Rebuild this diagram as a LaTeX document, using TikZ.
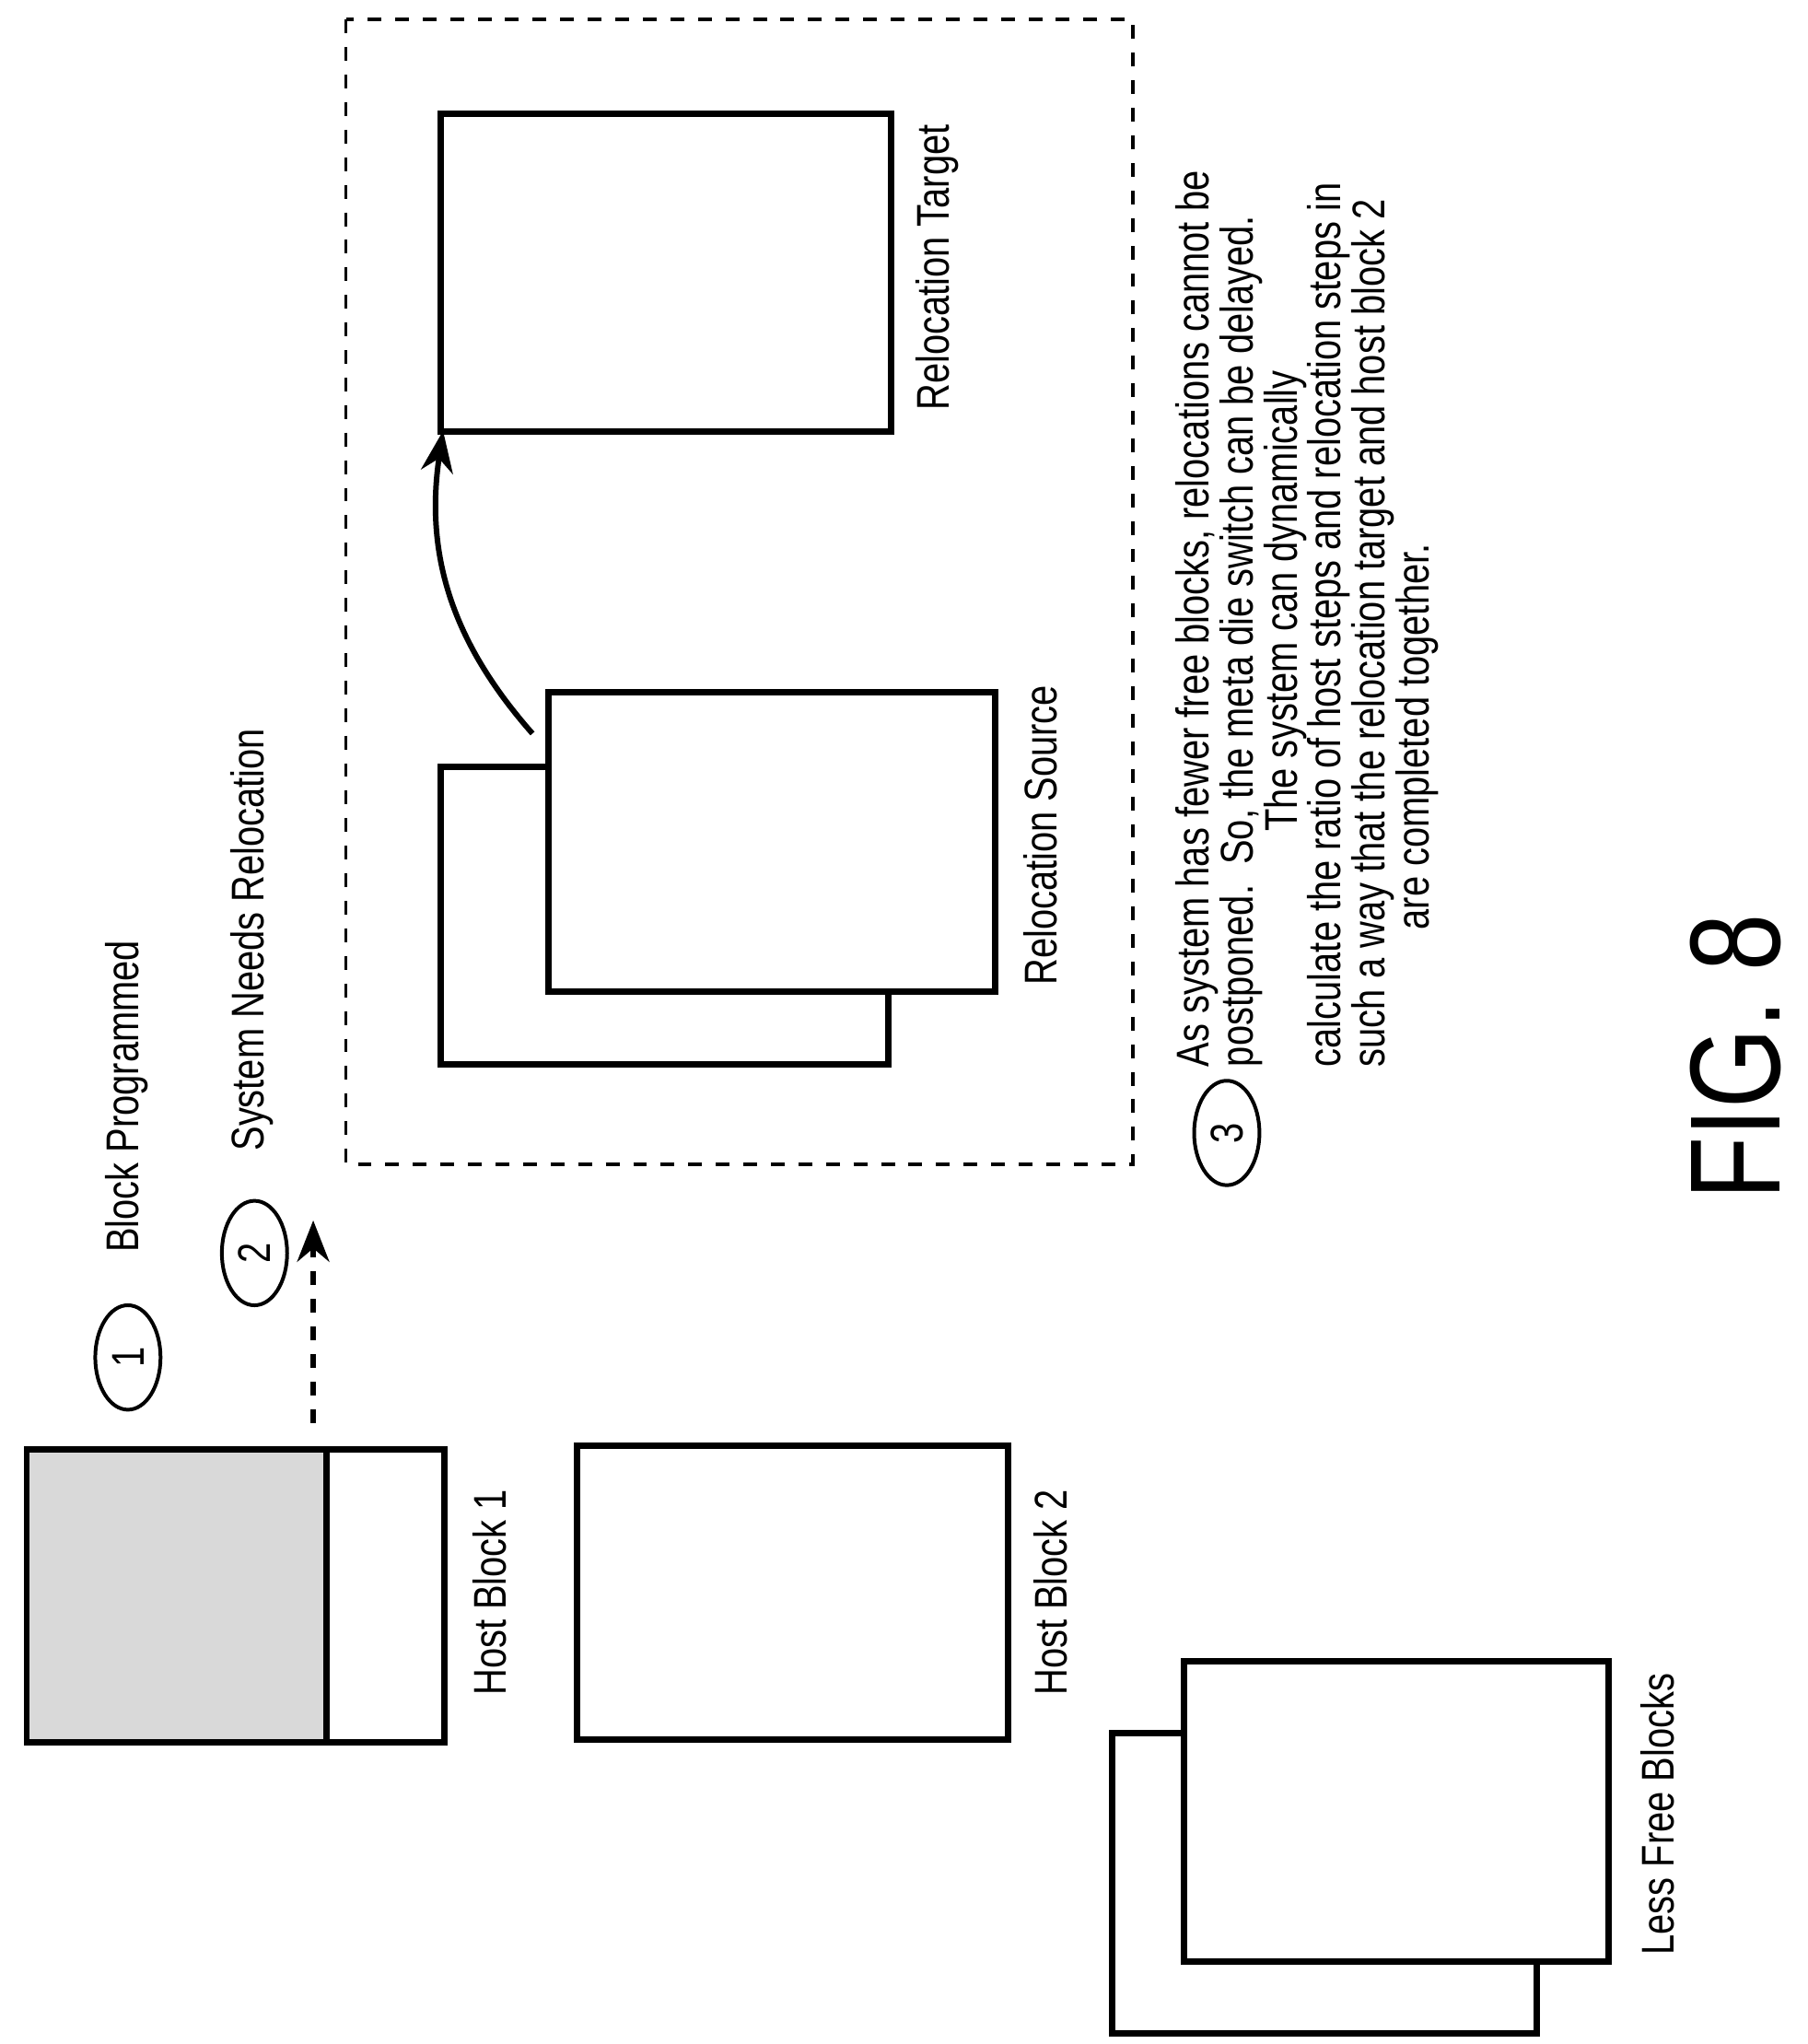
\documentclass[tikz,border=0pt]{standalone}
\usepackage{fontspec}
\setmainfont{Liberation Sans}[FakeStretch=0.8]
\usetikzlibrary{positioning,arrows,arrows.meta,shapes.geometric}
\tikzset{
    >={Stealth[length=9pt,width=7pt]},
    blockbox/.style={draw, line width=1.4pt, fill=white},
    tag/.style={rotate=90, font={\fontsize{10pt}{12}\selectfont}},
    stepmark/.style={ellipse, draw, thick, minimum width=0.5cm, minimum height=0.8cm, inner sep=0pt},
}
\begin{document}
\begin{tikzpicture}[x=0.01cm, y=-0.01cm]
\useasboundingbox (0,0) rectangle (1385,1566);
% relocation area
\draw[dashed, thick] (265,15) rectangle (868,892);
\node[blockbox, anchor=north west, minimum width=3.45cm, minimum height=2.43cm] (target) at (335,85) {};
\node[tag] (targetlbl) at (718,205) {Relocation Target};
\node[blockbox, anchor=north west, minimum width=3.43cm, minimum height=2.28cm] (srcback) at (335,585) {};
\node[blockbox, anchor=north west, minimum width=3.42cm, minimum height=2.29cm] (src) at (418,528) {};
\node[tag] (srclbl) at (797,640) {Relocation Source};
\coordinate (srcout) at (408,562);
\draw[->, line width=1.2pt] (srcout) to[bend left=25] ([xshift=0.45mm,yshift=0.3mm]target.south west);
% host blocks
\node[blockbox, fill=gray!30, anchor=north west, minimum width=2.30cm, minimum height=2.24cm] (host1a) at (18,1108) {};
\node[blockbox, anchor=north west, minimum width=0.90cm, minimum height=2.24cm] (host1b) at (248,1108) {};
\node[tag] (host1lbl) at (375,1220) {Host Block 1};
\node[blockbox, anchor=north west, minimum width=3.30cm, minimum height=2.25cm] (host2) at (440,1105) {};
\node[tag] (host2lbl) at (805,1220) {Host Block 2};
% free blocks
\node[blockbox, anchor=north west, minimum width=3.25cm, minimum height=2.30cm] (freeback) at (850,1325) {};
\node[blockbox, anchor=north west, minimum width=3.25cm, minimum height=2.30cm] (free) at (905,1270) {};
\node[tag] (freelbl) at (1270,1390) {Less Free Blocks};
% steps
\node[stepmark] (one) at (98,1040) {\rotatebox{90}{1}};
\node[tag] (onelbl) at (97,840) {Block Programmed};
\node[stepmark] (two) at (195,960) {\rotatebox{90}{2}};
\node[tag] (twolbl) at (193,720) {System Needs Relocation};
\coordinate (hostout) at (240,1090);
\coordinate (hostin) at (240,935);
\draw[->, dashed, line width=1.2pt] (hostout) -- (hostin);
\node[stepmark] (three) at (940,868) {\rotatebox{90}{3}};
\node[tag, anchor=north west, align=left, inner sep=0pt, font={\fontsize{10pt}{9.6pt}\selectfont}] (note) at (900,818)
{As system has fewer free blocks, relocations cannot be\\
postponed.\ \ So, the meta die switch can be delayed.\\
\hspace{1.8cm}The system can dynamically\\
calculate the ratio of host steps and relocation steps in\\
such a way that the relocation target and host block 2\\
\hspace{1.05cm}are completed together.};
\node[rotate=90, font={\fontsize{28pt}{30}\selectfont}] (fig) at (1330,810) {FIG. 8};
\end{tikzpicture}
\end{document}
